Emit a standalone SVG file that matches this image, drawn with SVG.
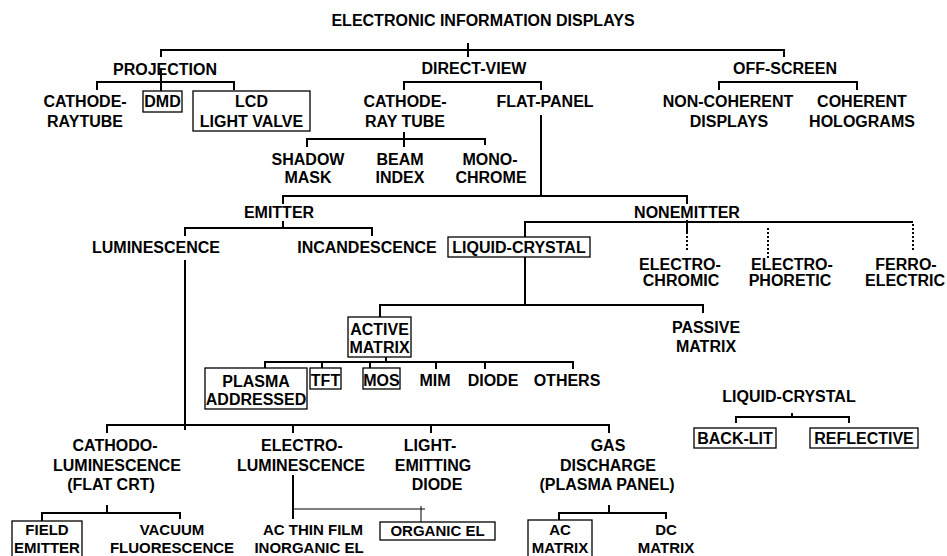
<svg xmlns="http://www.w3.org/2000/svg" width="947" height="556" viewBox="0 0 947 556">
<style>
text{font-family:"Liberation Sans",Arial,sans-serif;font-weight:bold;font-size:16px;text-anchor:middle;fill:#000}
.s{font-size:15px}
.c{fill:none;stroke:#000;stroke-width:2}
.t{fill:none;stroke:#000;stroke-width:1}
.d{fill:none;stroke:#000;stroke-width:2;stroke-dasharray:2 2}
.b{fill:#fff;stroke:#000;stroke-width:1.3}
</style>
<rect width="947" height="556" fill="#fff"/>
<g id="connectors">
<path class="c" d="M161,57V50H784V57M468,43V57"/>
<path class="c" d="M97,90V82H234V90M161,68V91"/>
<path class="c" d="M404,90V82H541V90"/>
<path class="c" d="M719,90V82H857V90"/>
<path class="c" d="M404,132V147M307,147V139H485V145"/>
<path class="c" d="M541,115V196M283,204V196H687V204"/>
<path class="c" d="M283,221V228M185,236V228H372V236"/>
<path class="c" d="M525,237V222H913M687,220V232"/>
<path class="d" d="M687,232V250M768,228V258M913,224V252"/>
<path class="c" d="M525,257V305M380,317V305H703V313"/>
<path class="c" d="M386,357V362M265,369V362H573V369M322,362V369M370,362V369M436,362V369M485,362V369"/>
<path class="c" d="M185,260V430"/>
<path class="c" d="M107,433V425H609V433M293,425V433M431,425V433"/>
<path class="c" d="M107,505V513M42,521V513H180V519"/>
<path class="c" d="M293,475V519"/>
<path class="t" d="M293,509H425M421,506V522"/>
<path class="c" d="M609,505V513M559,520V513H666V519"/>
<path class="c" d="M792,413V417M736,423V417H849V423"/>
</g>
<g id="n-root"><text x="483" y="26">ELECTRONIC INFORMATION DISPLAYS</text></g>
<g id="n-projection"><text x="165" y="75">PROJECTION</text></g>
<g id="n-directview"><text x="474" y="74">DIRECT-VIEW</text></g>
<g id="n-offscreen"><text x="785" y="74">OFF-SCREEN</text></g>
<g id="n-crt1"><text x="85" y="107">CATHODE-</text><text x="85" y="127">RAYTUBE</text></g>
<g id="n-dmd"><rect class="b" x="143" y="91" width="39" height="21"/><text x="162.5" y="107">DMD</text></g>
<g id="n-lcdlv"><rect class="b" x="193" y="91" width="117" height="40"/><text x="251.5" y="107">LCD</text><text x="251.5" y="127">LIGHT VALVE</text></g>
<g id="n-crt2"><text x="405" y="107">CATHODE-</text><text x="405" y="127">RAY TUBE</text></g>
<g id="n-flatpanel"><text x="545" y="107">FLAT-PANEL</text></g>
<g id="n-noncoherent"><text x="728" y="107">NON-COHERENT</text><text x="729" y="127">DISPLAYS</text></g>
<g id="n-coherent"><text x="862" y="107">COHERENT</text><text x="862" y="127">HOLOGRAMS</text></g>
<g id="n-shadow"><text x="308" y="165">SHADOW</text><text x="308" y="183">MASK</text></g>
<g id="n-beam"><text x="400" y="165">BEAM</text><text x="400" y="183">INDEX</text></g>
<g id="n-mono"><text x="490" y="165">MONO-</text><text x="491" y="183">CHROME</text></g>
<g id="n-emitter"><text x="279" y="218">EMITTER</text></g>
<g id="n-nonemitter"><text x="687" y="218">NONEMITTER</text></g>
<g id="n-luminescence"><text x="156" y="253">LUMINESCENCE</text></g>
<g id="n-incandescence"><text x="367" y="253">INCANDESCENCE</text></g>
<g id="n-lc"><rect class="b" x="448" y="237" width="142" height="20"/><text x="519" y="253">LIQUID-CRYSTAL</text></g>
<g id="n-electrochromic"><text x="680" y="270">ELECTRO-</text><text x="681" y="286">CHROMIC</text></g>
<g id="n-electrophoretic"><text x="792" y="270">ELECTRO-</text><text x="790" y="286">PHORETIC</text></g>
<g id="n-ferro"><text x="906" y="270">FERRO-</text><text x="905" y="286">ELECTRIC</text></g>
<g id="n-active"><rect class="b" x="348" y="317" width="63" height="40"/><text x="379.5" y="335">ACTIVE</text><text x="379.5" y="353">MATRIX</text></g>
<g id="n-passive"><text x="706" y="333">PASSIVE</text><text x="706" y="352">MATRIX</text></g>
<g id="n-plasmaaddr"><rect class="b" x="205" y="368" width="102" height="41"/><text x="256" y="387">PLASMA</text><text x="256" y="405">ADDRESSED</text></g>
<g id="n-tft"><rect class="b" x="310" y="368" width="31" height="21"/><text x="325.5" y="386">TFT</text></g>
<g id="n-mos"><rect class="b" x="363" y="368" width="37" height="21"/><text x="381.5" y="386">MOS</text></g>
<g id="n-mim"><text x="435" y="386">MIM</text></g>
<g id="n-diode"><text x="493" y="386">DIODE</text></g>
<g id="n-others"><text x="567" y="386">OTHERS</text></g>
<g id="n-lc2"><text x="789" y="402">LIQUID-CRYSTAL</text></g>
<g id="n-backlit"><rect class="b" x="694" y="428" width="82" height="20"/><text x="735" y="444">BACK-LIT</text></g>
<g id="n-reflective"><rect class="b" x="810" y="428" width="108" height="20"/><text x="864" y="444">REFLECTIVE</text></g>
<g id="n-cathodo"><text x="115" y="451">CATHODO-</text><text x="117" y="471">LUMINESCENCE</text><text x="111" y="490">(FLAT CRT)</text></g>
<g id="n-electrolum"><text x="302" y="451">ELECTRO-</text><text x="301" y="471">LUMINESCENCE</text></g>
<g id="n-led"><text x="430" y="451">LIGHT-</text><text x="433" y="471">EMITTING</text><text x="437" y="490">DIODE</text></g>
<g id="n-gas"><text x="608" y="451">GAS</text><text x="608" y="471">DISCHARGE</text><text x="607" y="490">(PLASMA PANEL)</text></g>
<g id="n-field"><rect class="b" x="12" y="521" width="70" height="45"/><text class="s" x="47" y="534.5">FIELD</text><text class="s" x="47" y="552.5">EMITTER</text></g>
<g id="n-vacuum"><text class="s" x="172" y="534.5">VACUUM</text><text class="s" x="172" y="552.5">FLUORESCENCE</text></g>
<g id="n-acthin"><text class="s" x="313" y="534.5">AC THIN FILM</text><text class="s" x="309" y="552.5">INORGANIC EL</text></g>
<g id="n-organic"><rect class="b" x="380" y="522" width="115" height="18"/><text class="s" x="437.5" y="535.5">ORGANIC EL</text></g>
<g id="n-acmatrix"><rect class="b" x="528" y="520" width="64" height="46"/><text class="s" x="560" y="534.5">AC</text><text class="s" x="560" y="552.5">MATRIX</text></g>
<g id="n-dcmatrix"><text class="s" x="666" y="534.5">DC</text><text class="s" x="666" y="552.5">MATRIX</text></g>
</svg>
